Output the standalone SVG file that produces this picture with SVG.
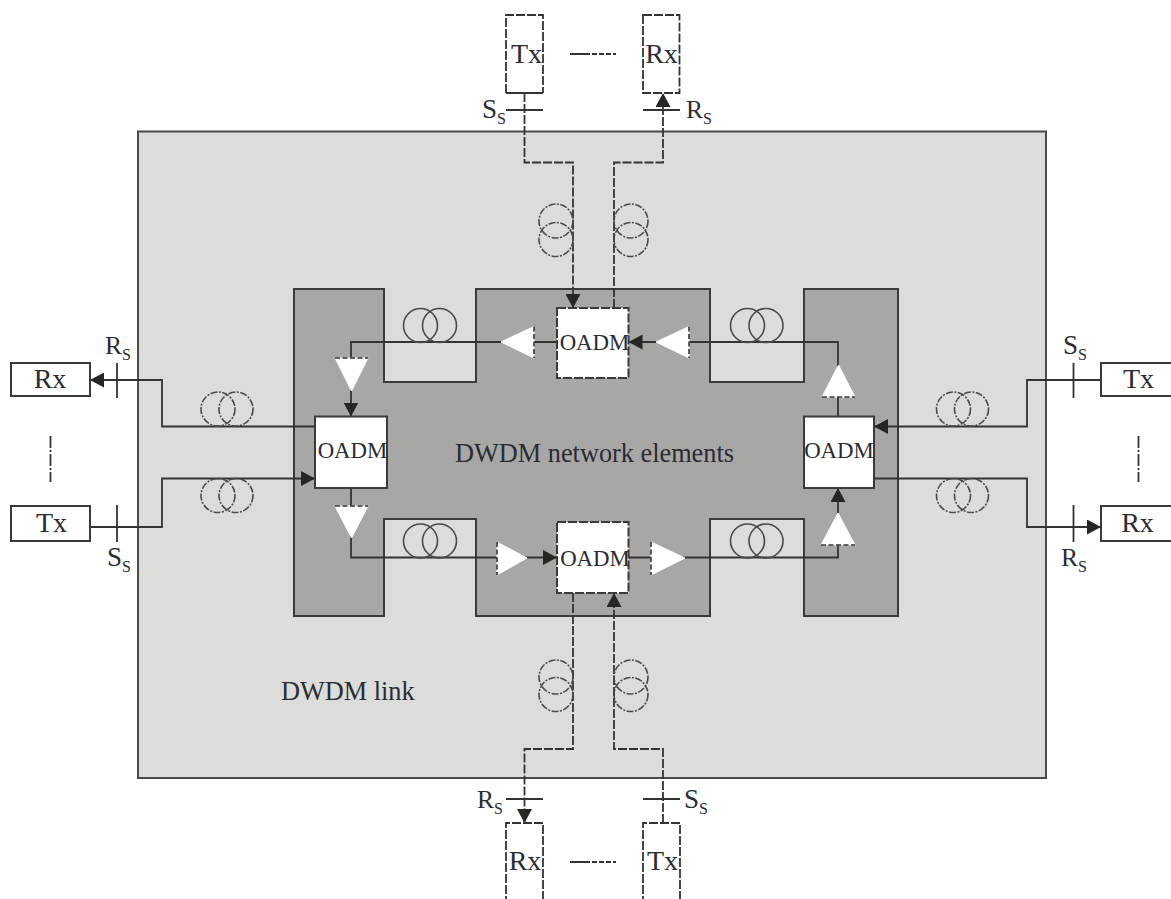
<svg xmlns="http://www.w3.org/2000/svg" width="1171" height="899" viewBox="0 0 1171 899">
<style>
text{font-family:"Liberation Serif","Times New Roman",serif;fill:#2a2c34;font-size:28px}
.c{text-anchor:middle}
.big{font-size:26.300px}
.oa{font-size:22.800px;text-anchor:middle}
.lb{font-size:27px}
.rl{font-size:25.500px}
.sub{font-size:16px}
.ln{fill:none;stroke:#33332f;stroke-width:1.800}
.d{stroke-dasharray:9 2}
.mid{stroke-dasharray:20 2 5 2 5 2 5 2}
.dd{stroke-dasharray:12 2 2 2}
.coil{fill:none;stroke:#4a4a48;stroke-width:1.600}
.co{stroke-dasharray:7 1.500 2 1.500}
.box{fill:#fff;stroke:#3a3a36;stroke-width:2}
.tr{fill:#fff;stroke:#fff;stroke-width:1}
.trb{fill:none;stroke:#33332f;stroke-width:1.600;stroke-dasharray:5 2.500}
</style>
<defs>
<marker id="a" markerUnits="userSpaceOnUse" markerWidth="15" markerHeight="15" refX="14" refY="7.500" orient="auto"><path d="M0,0 L14,7.500 L0,15 Z" fill="#262622"/></marker>
</defs>
<g id="link-area">
<rect x="138" y="131.500" width="908" height="646.500" fill="#dcdcdb" stroke="#4a4a48" stroke-width="2"/>
<text class="big" x="281" y="700">DWDM link</text>
</g>
<g id="network-elements">
<path d="M294,289 H384 V382 H476 V289 H710 V382 H804 V289 H898 V616 H804 V519 H710 V616 H476 V519 H384 V616 H294 Z" fill="#a8a7a6" stroke="#3a3a36" stroke-width="2"/>
<text class="big" x="455" y="461.500">DWDM network elements</text>
</g>
<g id="connectors">
<path class="ln d" d="M524.500,93 V162.500 H573 V308" marker-end="url(#a)"/>
<path class="ln d" d="M614,308 V162.500 H663 V93" marker-end="url(#a)"/>
<path class="ln d" d="M573,593 V749 H524.500 V823" marker-end="url(#a)"/>
<path class="ln d" d="M663,823 V749 H614 V593" marker-end="url(#a)"/>
<path class="ln" d="M315,426.500 H162 V380 H90" marker-end="url(#a)"/>
<path class="ln" d="M90,527 H162 V478.500 H315" marker-end="url(#a)"/>
<path class="ln" d="M1101,380 H1027 V426.500 H874" marker-end="url(#a)"/>
<path class="ln" d="M874,478.500 H1027 V527 H1101" marker-end="url(#a)"/>
<path class="ln" d="M557,342 H351 V416.500" marker-end="url(#a)"/>
<path class="ln" d="M838,416.500 V342 H628.500" marker-end="url(#a)"/>
<path class="ln" d="M351,488 V557.500 H557" marker-end="url(#a)"/>
<path class="ln" d="M628.500,557.500 H838 V488" marker-end="url(#a)"/>
<path class="ln" d="M506,110 H543 M643,110 H680 M506,799 H543 M643,799 H680 M117,363 V398 M117,505 V542 M1073.500,363 V398 M1073.500,505 V542"/>
<path class="ln mid" d="M570,54 H616 M570,862 H616"/>
<path class="ln dd" d="M50.500,436 V482 M1138.500,436 V482"/>
</g>
<g id="fibre-spools">
<g class="coil co">
<circle cx="556" cy="221" r="17"/><circle cx="556" cy="239.500" r="17"/>
<circle cx="631" cy="221" r="17"/><circle cx="631" cy="239.500" r="17"/>
<circle cx="556" cy="677" r="17"/><circle cx="556" cy="694.500" r="17"/>
<circle cx="631" cy="677" r="17"/><circle cx="631" cy="694.500" r="17"/>
<circle cx="218" cy="409" r="17"/><circle cx="236" cy="409" r="17"/>
<circle cx="218" cy="495.500" r="17"/><circle cx="236" cy="495.500" r="17"/>
<circle cx="953.500" cy="409" r="17"/><circle cx="971.500" cy="409" r="17"/>
<circle cx="953.500" cy="495.500" r="17"/><circle cx="971.500" cy="495.500" r="17"/>
</g>
<g class="coil">
<circle cx="420.500" cy="325.500" r="17"/><circle cx="439.500" cy="325.500" r="17"/>
<circle cx="747.500" cy="325.500" r="17"/><circle cx="766" cy="325.500" r="17"/>
<circle cx="420.500" cy="541" r="17"/><circle cx="439.500" cy="541" r="17"/>
<circle cx="747.500" cy="541" r="17"/><circle cx="766" cy="541" r="17"/>
</g>
</g>
<g id="amp-1"><path class="tr" d="M534,326.500 V358 L501,342 Z"/><path class="trb" d="M534,326.500 V358"/></g>
<g id="amp-2"><path class="tr" d="M689,326.500 V358 L656,342 Z"/><path class="trb" d="M689,326.500 V358"/></g>
<g id="amp-3"><path class="tr" d="M335,358 H368 L351.500,391 Z"/><path class="trb" d="M335,358 H368"/></g>
<g id="amp-4"><path class="tr" d="M335,506 H368 L351.500,538 Z"/><path class="trb" d="M335,506 H368"/></g>
<g id="amp-5"><path class="tr" d="M497,542 V575 L527,558 Z"/><path class="trb" d="M497,542 V575"/></g>
<g id="amp-6"><path class="tr" d="M651,542 V575 L685,558 Z"/><path class="trb" d="M651,542 V575"/></g>
<g id="amp-7"><path class="tr" d="M822,397 H855 L838.500,365 Z"/><path class="trb" d="M822,397 H855"/></g>
<g id="amp-8"><path class="tr" d="M821,545 H855 L838,513 Z"/><path class="trb" d="M821,545 H855"/></g>
<g id="oadm-top"><rect x="557" y="308" width="71.500" height="70" class="box d"/><text class="oa" x="594.500" y="350">OADM</text></g>
<g id="oadm-bottom"><rect x="557" y="522" width="71.500" height="71" class="box d"/><text class="oa" x="595" y="566">OADM</text></g>
<g id="oadm-left"><rect x="315" y="416.500" width="72" height="71.500" class="box"/><text class="oa" x="352.500" y="458">OADM</text></g>
<g id="oadm-right"><rect x="804" y="416.500" width="70" height="71.500" class="box"/><text class="oa" x="839" y="458">OADM</text></g>
<g id="tx-top"><path class="ln d" d="M506,93 V15 H543 V93"/><path class="ln" d="M506,93 H543"/><text class="c" x="526.500" y="63">Tx</text><text class="lb" x="482" y="118">S</text><text class="sub" x="497" y="124">S</text></g>
<g id="rx-top"><rect x="643" y="15" width="36.500" height="78" class="ln d"/><text class="c" x="661.500" y="63">Rx</text><text class="rl" x="686" y="118">R</text><text class="sub" x="703" y="124">S</text></g>
<g id="rx-bottom"><path class="ln d" d="M506,905 V823 H543 V905"/><text class="c" x="525" y="869.500">Rx</text><text class="rl" x="477" y="808">R</text><text class="sub" x="494" y="814">S</text></g>
<g id="tx-bottom"><path class="ln d" d="M643,905 V823 H680 V905"/><text class="c" x="662.500" y="869.500">Tx</text><text class="lb" x="684" y="808">S</text><text class="sub" x="699" y="814">S</text></g>
<g id="rx-left"><rect x="11" y="363" width="79" height="33" fill="#fff" stroke="#3a3a36" stroke-width="2"/><text class="c" x="50" y="388">Rx</text><text class="rl" x="105" y="354">R</text><text class="sub" x="122" y="360">S</text></g>
<g id="tx-left"><rect x="11" y="506" width="79" height="35" fill="#fff" stroke="#3a3a36" stroke-width="2"/><text class="c" x="51.500" y="532">Tx</text><text class="lb" x="107" y="566">S</text><text class="sub" x="122" y="572">S</text></g>
<g id="tx-right"><rect x="1101" y="363" width="75" height="33" fill="#fff" stroke="#3a3a36" stroke-width="2"/><text class="c" x="1138.500" y="388">Tx</text><text class="lb" x="1063" y="354">S</text><text class="sub" x="1078" y="360">S</text></g>
<g id="rx-right"><rect x="1101" y="506" width="75" height="35" fill="#fff" stroke="#3a3a36" stroke-width="2"/><text class="c" x="1137.500" y="532">Rx</text><text class="rl" x="1061" y="566">R</text><text class="sub" x="1078" y="572">S</text></g>
</svg>
